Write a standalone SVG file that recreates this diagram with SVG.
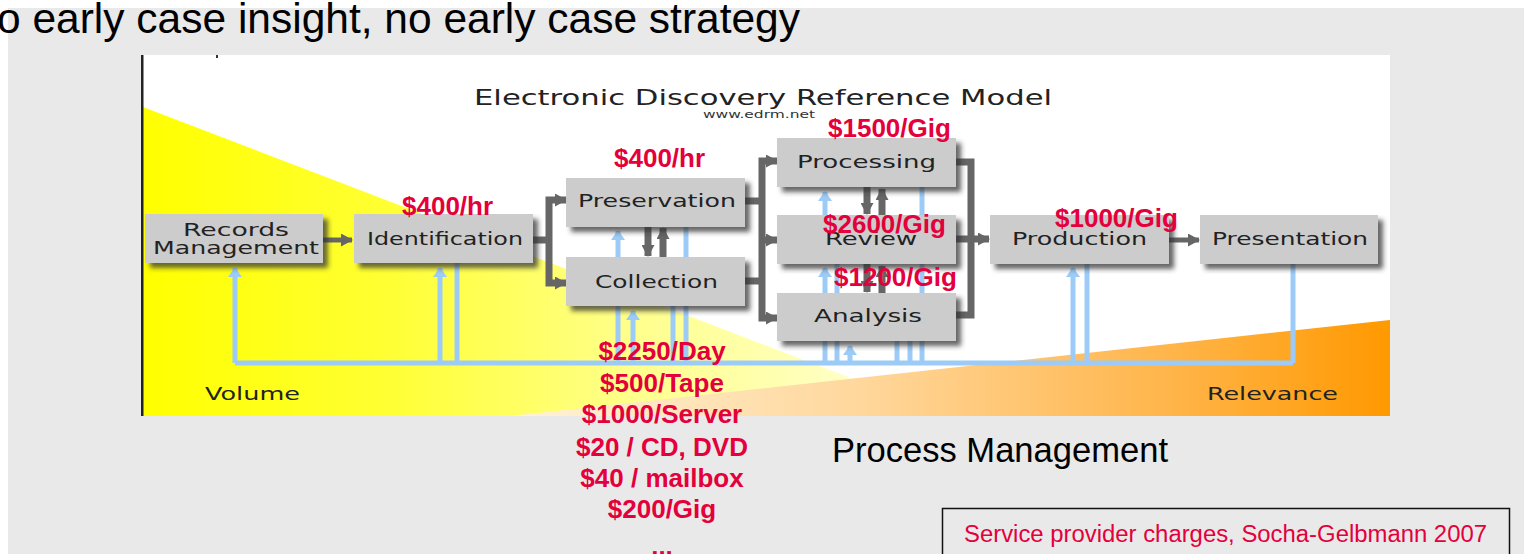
<svg xmlns="http://www.w3.org/2000/svg" width="1524" height="554" viewBox="0 0 1524 554">
<defs>
<style>
.node rect.box{fill:#cccccc;filter:url(#sh)}
.lbl{font-family:"DejaVu Sans",sans-serif;font-size:18px;fill:#222}
.red{font-family:"Liberation Sans",Arial,sans-serif;font-size:26px;font-weight:bold;fill:#e3003b}
.dk{fill:none;stroke:#666;stroke-width:7;stroke-linejoin:miter}
.dk5{fill:none;stroke:#666;stroke-width:5}
.bl{fill:none;stroke:#9ccbf7;stroke-width:5}
</style>
<filter id="sh" x="-10%" y="-20%" width="130%" height="160%">
<feDropShadow dx="5" dy="5" stdDeviation="2.5" flood-color="#333" flood-opacity="0.75"/>
</filter>
<marker id="ah" markerUnits="userSpaceOnUse" markerWidth="12" markerHeight="13" refX="11" refY="6.5" orient="auto">
<path d="M0,0 L12,6.5 L0,13 z" fill="#666"/>
</marker>
<marker id="bh" markerUnits="userSpaceOnUse" markerWidth="10" markerHeight="14" refX="9" refY="7" orient="auto">
<path d="M0,0 L10,7 L0,14 z" fill="#9ccbf7"/>
</marker>
<linearGradient id="yg" gradientUnits="userSpaceOnUse" x1="143" y1="0" x2="950" y2="0">
<stop offset="0" stop-color="#ffff00"/>
<stop offset="0.3" stop-color="#ffff33"/>
<stop offset="0.6" stop-color="#ffff8a"/>
<stop offset="1" stop-color="#ffffe0"/>
</linearGradient>
<linearGradient id="og" gradientUnits="userSpaceOnUse" x1="510" y1="0" x2="1390" y2="0">
<stop offset="0" stop-color="#fff3d8"/>
<stop offset="0.4" stop-color="#ffd79c"/>
<stop offset="0.75" stop-color="#ffb54a"/>
<stop offset="1" stop-color="#ff9900"/>
</linearGradient>
</defs>

<rect x="0" y="0" width="1524" height="554" fill="#ffffff"/>
<rect x="8" y="8" width="1516" height="546" fill="#e9e9e9"/>
<text x="-3" y="33" font-family="Liberation Sans, Arial, sans-serif" font-size="42" fill="#000" textLength="803" lengthAdjust="spacingAndGlyphs">o early case insight, no early case strategy</text>

<g id="background">
<rect x="141" y="55" width="1249" height="361" fill="#ffffff"/>
<polygon points="143,107 143,416 950,416" fill="url(#yg)"/>
<polygon points="510,416 1390,320 1390,416" fill="url(#og)"/>
<rect x="141" y="55" width="2.5" height="361" fill="#222"/>
<rect x="216" y="55" width="2" height="3" fill="#333"/>
<text x="474" y="105" font-family="DejaVu Sans, sans-serif" font-size="22" fill="#222" textLength="578" lengthAdjust="spacingAndGlyphs">Electronic Discovery Reference Model</text>
<text x="703" y="118" font-family="DejaVu Sans, sans-serif" font-size="11" fill="#333" textLength="112" lengthAdjust="spacingAndGlyphs">www.edrm.net</text>
<text class="lbl" x="205" y="400" textLength="95" lengthAdjust="spacingAndGlyphs">Volume</text>
<text class="lbl" x="1207" y="400" textLength="131" lengthAdjust="spacingAndGlyphs">Relevance</text>
</g>

<g id="connectors">
<path class="bl" d="M235 363 H1293"/>
<path class="bl" d="M235 363 V268" marker-end="url(#bh)"/>
<path class="bl" d="M440 363 V268" marker-end="url(#bh)"/>
<path class="bl" d="M457 263 V363"/>
<path class="bl" d="M618 257 V231" marker-end="url(#bh)"/>
<path class="bl" d="M686 227 V257"/>
<path class="bl" d="M618 306 V363"/>
<path class="bl" d="M633 363 V311" marker-end="url(#bh)"/>
<path class="bl" d="M673 306 V363"/>
<path class="bl" d="M686 306 V363"/>
<path class="bl" d="M825 215 V192" marker-end="url(#bh)"/>
<path class="bl" d="M922 187 V215"/>
<path class="bl" d="M825 293 V268" marker-end="url(#bh)"/>
<path class="bl" d="M837 264 V293"/>
<path class="bl" d="M922 264 V293"/>
<path class="bl" d="M825 341 V363"/>
<path class="bl" d="M837 341 V363"/>
<path class="bl" d="M850 363 V346" marker-end="url(#bh)"/>
<path class="bl" d="M897 341 V363"/>
<path class="bl" d="M910 341 V363"/>
<path class="bl" d="M922 341 V363"/>
<path class="bl" d="M1073 363 V268" marker-end="url(#bh)"/>
<path class="bl" d="M1087 264 V363"/>
<path class="bl" d="M1293 264 V363"/>

<path class="dk5" d="M323 240 H352" marker-end="url(#ah)"/>
<path class="dk" d="M533 240 H549"/>
<path class="dk" d="M549 240 V200 H566" marker-end="url(#ah)"/>
<path class="dk" d="M549 240 V283 H566" marker-end="url(#ah)"/>
<path class="dk" d="M745 201 H762"/>
<path class="dk" d="M745 281 H762"/>
<path class="dk" d="M762 240 V161 H777" marker-end="url(#ah)"/>
<path class="dk" d="M762 240 V318 H777" marker-end="url(#ah)"/>
<path class="dk" d="M762 240 H777" marker-end="url(#ah)"/>
<path class="dk" d="M956 162 H971 V315 H956"/>
<path class="dk" d="M956 239 H971"/>
<path class="dk" d="M971 239 H989" marker-end="url(#ah)"/>
<path class="dk5" d="M1169 240 H1199" marker-end="url(#ah)"/>
<path class="dk" d="M648 227 V256" marker-end="url(#ah)"/>
<path class="dk" d="M663 257 V228" marker-end="url(#ah)"/>
<path class="dk" d="M867 187 V214" marker-end="url(#ah)"/>
<path class="dk" d="M882 215 V189" marker-end="url(#ah)"/>
<path class="dk" d="M867 264 V292" marker-end="url(#ah)"/>
<path class="dk" d="M882 293 V266" marker-end="url(#ah)"/>
</g>

<g id="records" class="node">
<rect class="box" x="145" y="214" width="178" height="49"/>
<text class="lbl" x="183" y="236" textLength="106" lengthAdjust="spacingAndGlyphs">Records</text>
<text class="lbl" x="153" y="254" textLength="166" lengthAdjust="spacingAndGlyphs">Management</text>
</g>
<g id="identification" class="node">
<rect class="box" x="354" y="214" width="179" height="49"/>
<text class="lbl" x="367" y="245" textLength="156" lengthAdjust="spacingAndGlyphs">Identification</text>
</g>
<g id="preservation" class="node">
<rect class="box" x="566" y="178" width="179" height="49"/>
<text class="lbl" x="578" y="207" textLength="158" lengthAdjust="spacingAndGlyphs">Preservation</text>
</g>
<g id="collection" class="node">
<rect class="box" x="566" y="257" width="179" height="49"/>
<text class="lbl" x="595" y="288" textLength="123" lengthAdjust="spacingAndGlyphs">Collection</text>
</g>
<g id="processing" class="node">
<rect class="box" x="777" y="138" width="179" height="49"/>
<text class="lbl" x="797" y="168" textLength="139" lengthAdjust="spacingAndGlyphs">Processing</text>
</g>
<g id="review" class="node">
<rect class="box" x="777" y="215" width="179" height="49"/>
<text class="lbl" x="825" y="245" textLength="92" lengthAdjust="spacingAndGlyphs">Review</text>
</g>
<g id="analysis" class="node">
<rect class="box" x="777" y="293" width="179" height="48"/>
<text class="lbl" x="814" y="322" textLength="108" lengthAdjust="spacingAndGlyphs">Analysis</text>
</g>
<g id="production" class="node">
<rect class="box" x="990" y="215" width="179" height="49"/>
<text class="lbl" x="1012" y="245" textLength="135" lengthAdjust="spacingAndGlyphs">Production</text>
</g>
<g id="presentation" class="node">
<rect class="box" x="1200" y="215" width="178" height="49"/>
<text class="lbl" x="1212" y="245" textLength="156" lengthAdjust="spacingAndGlyphs">Presentation</text>
</g>

<g id="costs">
<text class="red" x="402" y="215">$400/hr</text>
<text class="red" x="614" y="167">$400/hr</text>
<text class="red" x="828" y="137">$1500/Gig</text>
<text class="red" x="823" y="233">$2600/Gig</text>
<text class="red" x="834" y="286">$1200/Gig</text>
<text class="red" x="1055" y="227">$1000/Gig</text>
<g text-anchor="middle">
<text class="red" x="662" y="360">$2250/Day</text>
<text class="red" x="662" y="392">$500/Tape</text>
<text class="red" x="662" y="423">$1000/Server</text>
<text class="red" x="662" y="456">$20 / CD, DVD</text>
<text class="red" x="662" y="487">$40 / mailbox</text>
<text class="red" x="662" y="518">$200/Gig</text>
<text class="red" x="662" y="555">...</text>
</g>
</g>

<text x="832" y="462" font-family="Liberation Sans, Arial, sans-serif" font-size="35" fill="#000" textLength="336" lengthAdjust="spacingAndGlyphs">Process Management</text>

<g id="source">
<rect x="942.5" y="508.5" width="567" height="60" fill="none" stroke="#111" stroke-width="1.5"/>
<text x="964" y="542" font-family="Liberation Sans, Arial, sans-serif" font-size="23" fill="#e3003b" textLength="523" lengthAdjust="spacingAndGlyphs">Service provider charges, Socha-Gelbmann 2007</text>
</g>
</svg>
